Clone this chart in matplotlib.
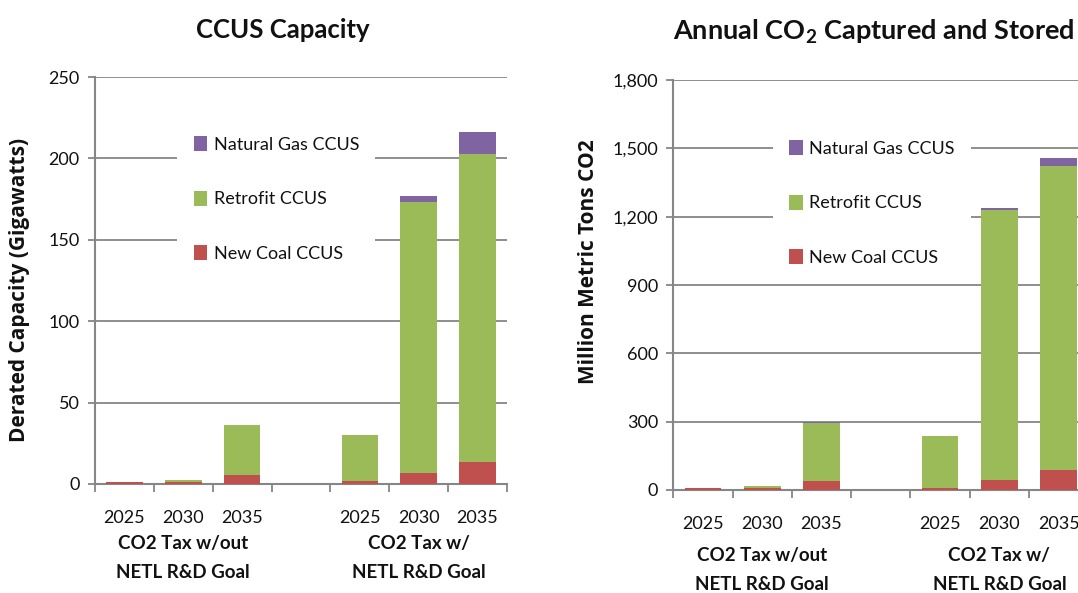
import matplotlib
matplotlib.use("Agg")
import matplotlib.pyplot as plt
from matplotlib.patches import Patch
from matplotlib.ticker import FuncFormatter

plt.rcParams['font.family'] = ['Lato', 'DejaVu Sans']
plt.rcParams['mathtext.fontset'] = 'custom'
plt.rcParams['mathtext.rm'] = 'Lato'
plt.rcParams['mathtext.bf'] = 'Lato:bold'

# Data
years = ['2025', '2030', '2035']
scenarios = ['CO2 Tax w/out\nNETL R&D Goal', 'CO2 Tax w/\nNETL R&D Goal']
series_names = ['New Coal CCUS', 'Retrofit CCUS', 'Natural Gas CCUS']
series_colors = ['#C0504D', '#9BBB59', '#8064A2']

# Derated capacity, GW (scenario 1: 2025/2030/2035, scenario 2: 2025/2030/2035)
cap_new_coal = [1.5, 1.3, 5.7, 1.6, 7.0, 13.8]
cap_retrofit = [0.0, 1.1, 30.6, 28.5, 166.3, 188.6]
cap_nat_gas = [0.0, 0.0, 0.2, 0.0, 3.6, 14.0]

# Annual CO2 captured and stored, million metric tons
co2_new_coal = [10, 10, 38, 10, 42.5, 86.5]
co2_retrofit = [0, 6, 258, 227, 1187.5, 1335.5]
co2_nat_gas = [0, 0, 2, 0, 10, 36]

# bar slots: three years, an empty slot, three years
slots = [0, 1, 2, 4, 5, 6]
GRID = '#868686'
INK = '#111111'

fig = plt.figure(figsize=(10.78, 5.93), dpi=100)


def draw_panel(rect, series, ymax, ystep, title, ylabel, legend_box,
               ylabel_xy, title_xy, title_size, label_y, group_y):
    ax = fig.add_axes(rect)
    bottom = [0.0] * len(slots)
    for vals, name, col in zip(series, series_names, series_colors):
        ax.bar(slots, vals, width=0.62, bottom=bottom, color=col,
               linewidth=0, label=name, zorder=3)
        bottom = [b + v for b, v in zip(bottom, vals)]
    ax.set_xlim(-0.5, 6.5)
    ax.set_ylim(0, ymax)
    ax.set_yticks([i * ystep for i in range(int(round(ymax / ystep)) + 1)])
    ax.yaxis.set_major_formatter(FuncFormatter(lambda v, p: f'{v:,.0f}'))
    ax.grid(axis='y', color=GRID, linewidth=1.3, zorder=0)
    ax.set_axisbelow(True)
    for s in ['top', 'right']:
        ax.spines[s].set_visible(False)
    for s in ['left', 'bottom']:
        ax.spines[s].set_color(GRID)
        ax.spines[s].set_linewidth(1.5)
    ax.tick_params(axis='y', length=5, width=1.3, color=GRID, pad=6,
                   labelsize=13, labelcolor=INK)
    # slot boundary ticks on the category axis
    ax.set_xticks([x - 0.5 for x in range(8)])
    ax.set_xticklabels([])
    ax.tick_params(axis='x', length=6, width=1.3, color=GRID, direction='out')
    for x, yr in zip(slots, years * 2):
        ax.text(x, label_y, yr, transform=ax.get_xaxis_transform(),
                ha='center', va='center', fontsize=13, color=INK)
    for cx, sc in zip([1, 5], scenarios):
        ax.text(cx, group_y, sc, transform=ax.get_xaxis_transform(),
                ha='center', va='top', fontsize=13.5, fontweight='bold',
                linespacing=1.85, color=INK)
    handles = [Patch(facecolor=c, edgecolor='none') for c in series_colors][::-1]
    leg = ax.legend(handles, series_names[::-1], loc='upper left',
                    bbox_to_anchor=legend_box, frameon=True, fancybox=False,
                    framealpha=1, edgecolor='none', facecolor='white',
                    fontsize=13, handlelength=0.75, handleheight=0.9,
                    handletextpad=0.35, labelspacing=2.1, borderpad=0.9,
                    borderaxespad=0)
    leg.set_zorder(5)
    for t in leg.get_texts():
        t.set_color(INK)
    fig.text(ylabel_xy[0], ylabel_xy[1], ylabel, rotation=90, ha='center',
             va='center', fontsize=15, fontweight='bold', color=INK,
             family=['Open Sans', 'DejaVu Sans'])
    fig.text(title_xy[0], title_xy[1], title, ha='center', va='center',
             fontsize=title_size, fontweight='bold', color=INK)
    return ax


draw_panel([95 / 1078, 1 - 484 / 593, 412 / 1078, 407 / 593],
           [cap_new_coal, cap_retrofit, cap_nat_gas], 250, 50,
           'CCUS Capacity', 'Derated Capacity (Gigawatts)',
           (0.2, 0.895), (20 / 1078, 1 - 290 / 593), (283 / 1078, 1 - 30 / 593),
           18.5, -0.083, -0.125)

draw_panel([673.3 / 1078, 1 - 490 / 593, 415 / 1078, 410 / 593],
           [co2_new_coal, co2_retrofit, co2_nat_gas], 1800, 300,
           'Annual CO$_\\mathbf{2}$ Captured and Stored',
           'Million Metric Tons CO2',
           (0.24, 0.893), (588 / 1078, 1 - 262 / 593), (874 / 1078, 1 - 32 / 593),
           19.5, -0.083, -0.14)

fig.savefig('out.png', dpi=100, facecolor='white')
